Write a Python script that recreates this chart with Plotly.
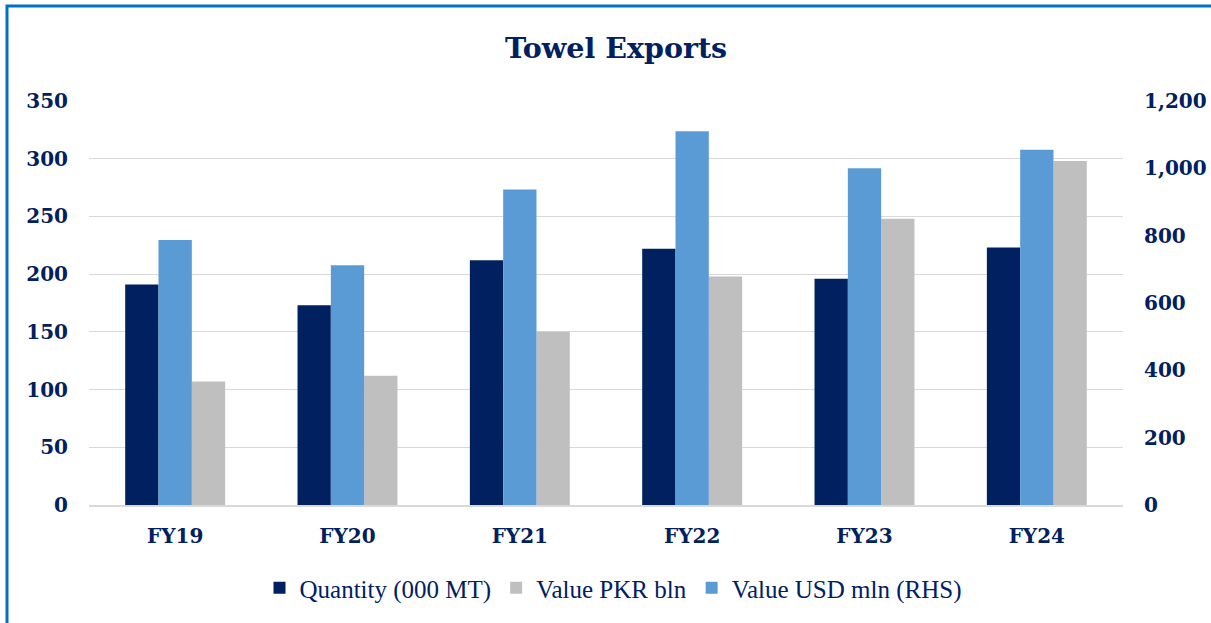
import plotly.graph_objects as go

categories = ["FY19", "FY20", "FY21", "FY22", "FY23", "FY24"]
quantity_000mt = [191, 173, 212, 222, 196, 223]
value_usd_mln = [787, 712, 937, 1110, 1000, 1055]
value_pkr_bln = [107, 112, 150, 198, 248, 298]

NAVY = "#002060"
BLUE = "#5B9BD5"
GRAY = "#BFBFBF"
GRID = "#D9D9D9"
TXT = "#002060"

fig = go.Figure()
fig.add_trace(go.Bar(
    x=categories, y=quantity_000mt, name="Quantity (000 MT)",
    marker=dict(color=NAVY, line=dict(width=0)), offsetgroup="1", legendrank=1, yaxis="y"))
fig.add_trace(go.Bar(
    x=categories, y=value_usd_mln, name="Value USD mln (RHS)",
    marker=dict(color=BLUE, line=dict(width=0)), offsetgroup="2", legendrank=3, yaxis="y2"))
fig.add_trace(go.Bar(
    x=categories, y=value_pkr_bln, name="Value PKR bln",
    marker=dict(color=GRAY, line=dict(width=0)), offsetgroup="3", legendrank=2, yaxis="y"))

tickfont = dict(family="DejaVu Serif", size=20, color=TXT, weight="bold")

L, R, T, B = 89, 88, 101, 118
W, H = 1211, 623
pw = W - L - R
ph = H - T - B

fig.update_layout(
    width=W, height=H,
    margin=dict(l=L, r=R, t=T, b=B, pad=0),
    paper_bgcolor="white", plot_bgcolor="white",
    barmode="group", bargap=0.42, bargroupgap=0,
    title=dict(text="<b>Towel Exports</b>", x=(616 - L) / pw, xref="paper", xanchor="center",
               y=1 - 48 / H, yref="container", yanchor="middle",
               font=dict(family="DejaVu Serif", size=28.5, color=TXT)),
    xaxis=dict(showgrid=False, showline=True, linecolor=GRID, linewidth=1.5, automargin=False,
               tickfont=tickfont, ticks="", ticklabelstandoff=12),
    yaxis=dict(range=[0, 350], dtick=50, showgrid=True, gridcolor=GRID, gridwidth=1.3,
               zeroline=False, tickfont=tickfont, ticks="", ticklabelstandoff=20, automargin=False),
    yaxis2=dict(range=[0, 1200], dtick=200, overlaying="y", side="right", showgrid=False,
                zeroline=False, tickformat=",", tickfont=tickfont, ticks="", ticklabelstandoff=20,
                automargin=False),
    legend=dict(orientation="h", x=(613 - L) / pw, xanchor="center", y=(H - B - 588) / ph,
                yanchor="middle", font=dict(family="Liberation Serif", size=25, color=TXT),
                traceorder="normal", itemsizing="constant"),
    showlegend=True,
)

# outer blue frame
fig.add_shape(type="rect", xref="paper", yref="paper",
              x0=(7 - L) / pw, x1=(1240 - L) / pw, y0=(H - B - 700) / ph, y1=(H - B - 6) / ph,
              line=dict(color="#0070C0", width=3), fillcolor="rgba(0,0,0,0)", layer="below")

fig.write_html("out.html", config={"displayModeBar": False},
               post_script="document.body.style.margin='0';document.body.style.overflow='hidden';")
